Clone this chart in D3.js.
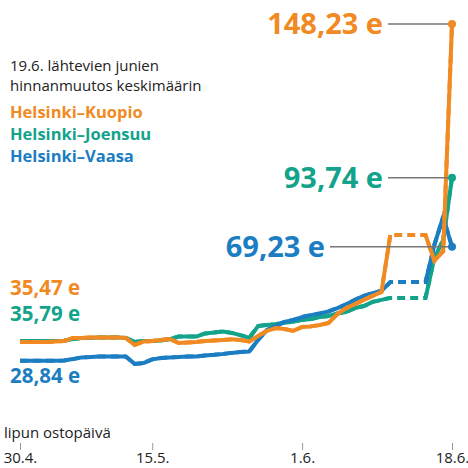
<!DOCTYPE html>
<html>
<head>
<meta charset="utf-8">
<script src="https://cdn.jsdelivr.net/npm/d3@7"></script>
<style>
body { margin: 0; background: #fff; }
text { font-family: 'Open Sans', sans-serif; }
</style>
</head>
<body>
<svg id="chart"></svg>
<script>
'use strict'

// ostopäivät 30.4. - 18.6. (päivittäin)
var START = new Date(2023, 3, 30);
var END = new Date(2023, 5, 18);
var days = d3.timeDay.range(START, d3.timeDay.offset(END, 1));

var tickDates = [new Date(2023, 3, 30), new Date(2023, 4, 15), new Date(2023, 5, 1), new Date(2023, 5, 18)];

var kuopio = [
	35.47, 35.47, 35.5, 35.5, 35.6, 35.8, 36.9, 36.9, 37.1, 37.1,
	37.1, 37.1, 36.9, 34.4, 35.6, 35.8, 36.2, 36.5, 35.1, 35.3,
	35.5, 35.8, 36.0, 36.2, 36.4, 36.2, 35.6, 37.6, 39.4, 40.4,
	40.1, 39.4, 40.8, 41.0, 41.5, 42.2, 45.4, 47.5, 48.9, 50.4,
	51.8, 53.2, 73.4, null, null, null, 73.4, 64.2, 67.7, 148.23
];

var joensuu = [
	35.79, 35.79, 35.8, 35.8, 35.8, 35.9, 36.5, 36.9, 36.9, 37.1,
	37.1, 37.1, 36.9, 35.5, 35.8, 35.8, 36.0, 36.5, 37.4, 37.4,
	37.4, 38.5, 38.8, 39.2, 38.7, 37.9, 36.9, 41.1, 41.5, 41.8,
	42.4, 42.6, 43.3, 43.6, 44.3, 44.7, 45.6, 46.1, 47.5, 48.2,
	49.7, 50.4, 51.1, null, null, null, 51.1, 65.3, 71.6, 93.74
];

var vaasa = [
	28.84, 28.8, 28.8, 28.8, 28.8, 28.9, 29.4, 30.0, 30.1, 30.3,
	30.3, 30.3, 30.3, 27.7, 28.0, 29.3, 29.8, 30.0, 30.1, 30.3,
	30.3, 30.7, 30.9, 31.2, 31.6, 31.9, 32.1, 36.2, 39.7, 41.1,
	42.6, 43.3, 44.3, 45.0, 45.6, 46.3, 47.5, 48.8, 50.4, 51.8,
	52.8, 53.6, 56.7, null, null, null, 56.7, 69.9, 79.8, 69.23
];

var routeNames = ['Helsinki–Kuopio', 'Helsinki–Joensuu', 'Helsinki–Vaasa'];
var routeColors = ['#f18a22', '#13a38b', '#1b7dc2'];

var W = 468, H = 468;

var svg = d3.select('#chart')
	.attr('width', W)
	.attr('height', H);

var x = d3.scaleTime()
	.domain([START, END])
	.range([20, 452]);

var y = d3.scaleLinear()
	.domain([0, 150])
	.range([442, 19]);

var fmt = function(v) { return d3.format('.2f')(v).replace('.', ',') + ' e'; };

// otsikko, kaksi riviä
var titleLines = ['19.6. lähtevien junien', 'hinnanmuutos keskimäärin'];

svg.selectAll('.title')
	.data(titleLines)
	.enter()
	.append('text')
	.attr('class', 'title')
	.attr('x', 10)
	.attr('y', function(d, i) { return 71 + i * 20; })
	.attr('fill', '#222')
	.style('font-size', '15px')
	.text(function(d) { return d; });

svg.selectAll('.legend')
	.data(routeNames)
	.enter()
	.append('text')
	.attr('class', 'legend')
	.attr('x', 10)
	.attr('y', function(d, i) { return 118 + i * 22; })
	.attr('fill', function(d, i) { return routeColors[i]; })
	.style('font-size', '16.5px')
	.style('font-weight', 700)
	.text(function(d) { return d; });

// x-akseli
var axis = svg.append('g')
	.attr('transform', 'translate(0,443)')
	.call(d3.axisBottom(x)
		.tickValues(tickDates)
		.tickFormat(d3.timeFormat('%-d.%-m.'))
		.tickSize(7)
		.tickPadding(2));

axis.select('.domain').remove();
axis.selectAll('.tick line').attr('stroke', '#999');
axis.selectAll('.tick text')
	.attr('fill', '#222')
	.style('font-size', '15px')
	.style('font-family', "'Open Sans', sans-serif");

svg.append('text')
	.attr('x', 4)
	.attr('y', 438)
	.attr('fill', '#222')
	.style('font-size', '15px')
	.text('lipun ostopäivä');

var series = [
	{ name: routeNames[1], values: joensuu, color: routeColors[1] },
	{ name: routeNames[2], values: vaasa, color: routeColors[2] },
	{ name: routeNames[0], values: kuopio, color: routeColors[0] }
];

var line = d3.line()
	.defined(function(d) { return d.v !== null; })
	.x(function(d) { return x(d.date); })
	.y(function(d) { return y(d.v); });

function toPoints(values) {
	return values.map(function(v, i) { return { date: days[i], v: v }; });
}

var g = svg.append('g');

series.forEach(function(s) {
	var pts = toPoints(s.values);

	// puuttuvat päivät katkoviivalla
	g.append('path')
		.datum(pts.filter(line.defined()))
		.attr('d', line)
		.attr('fill', 'none')
		.attr('stroke', s.color)
		.attr('stroke-width', 4)
		.attr('stroke-dasharray', '8,5');

	g.append('path')
		.datum(pts)
		.attr('d', line)
		.attr('fill', 'none')
		.attr('stroke', s.color)
		.attr('stroke-width', 4)
		.attr('stroke-linejoin', 'round');
});

// loppuarvot
var ends = [
	{ values: kuopio, color: routeColors[0], textEnd: 383 },
	{ values: joensuu, color: routeColors[1], textEnd: 383 },
	{ values: vaasa, color: routeColors[2], textEnd: 325 }
];

ends.forEach(function(e) {
	var last = e.values[e.values.length - 1];
	var cx = x(days[days.length - 1]);
	var cy = y(last);

	svg.append('line')
		.attr('x1', e.textEnd + 5)
		.attr('x2', cx)
		.attr('y1', cy)
		.attr('y2', cy)
		.attr('stroke', '#777')
		.attr('stroke-width', 1.5);

	svg.append('circle')
		.attr('cx', cx)
		.attr('cy', cy)
		.attr('r', 4)
		.attr('fill', e.color);

	svg.append('text')
		.attr('x', e.textEnd)
		.attr('y', cy)
		.attr('dy', '0.36em')
		.attr('text-anchor', 'end')
		.attr('fill', e.color)
		.style('font-size', '29px')
		.style('font-weight', 700)
		.text(fmt(last));
});

// alkuarvot
var starts = [
	{ values: kuopio, color: routeColors[0], off: -47 },
	{ values: joensuu, color: routeColors[1], off: -20 },
	{ values: vaasa, color: routeColors[2], off: 22 }
];

starts.forEach(function(s) {
	svg.append('text')
		.attr('x', 10)
		.attr('y', y(s.values[0]) + s.off)
		.attr('fill', s.color)
		.style('font-size', '20.5px')
		.style('font-weight', 700)
		.text(fmt(s.values[0]));
});
</script>
</body>
</html>
